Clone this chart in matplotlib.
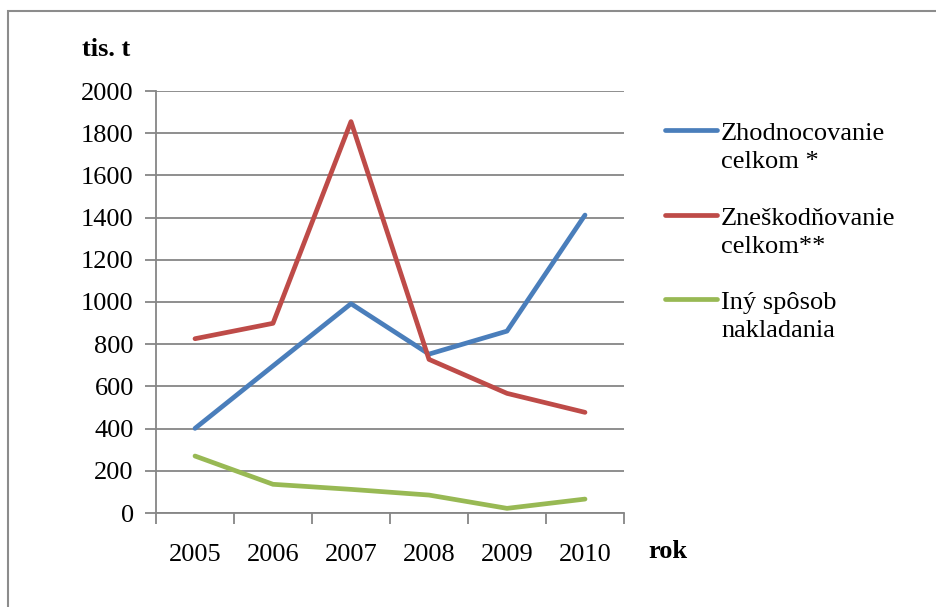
import matplotlib.pyplot as plt
from matplotlib.patches import Rectangle

plt.rcParams['font.family'] = ['Liberation Serif', 'DejaVu Serif']

# data (tis. t)
years = ['2005', '2006', '2007', '2008', '2009', '2010']
zhodnocovanie = [401, 697, 992, 753, 862, 1412]
zneskodnovanie = [826, 899, 1855, 728, 567, 477]
iny_sposob = [270, 136, 112, 85, 22, 66]

labels = ['Zhodnocovanie\ncelkom *', 'Zneškodňovanie\ncelkom**', 'Iný spôsob\nnakladania']
colors = ['#4A7EBB', '#BE4B48', '#98B954']

fig = plt.figure(figsize=(9.37, 6.07), dpi=100)
ax = fig.add_axes([156 / 937, 1 - 513 / 607, 468 / 937, 422 / 607])

x = list(range(len(years)))
series = [zhodnocovanie, zneskodnovanie, iny_sposob]
handles = []
for vals, col, lab in zip(series, colors, labels):
    h, = ax.plot(x, vals, color=col, linewidth=3.4, solid_capstyle='round',
                 solid_joinstyle='round', label=lab, zorder=3)
    handles.append(h)

grid_col = '#868686'
ax.set_xlim(-0.5, len(years) - 0.5)
ax.set_ylim(0, 2000)
ax.set_yticks(range(0, 2001, 200))
ax.yaxis.grid(True, color=grid_col, linewidth=1.3)
ax.set_axisbelow(True)

# category ticks sit between the labels
ax.set_xticks([i - 0.5 for i in range(len(years) + 1)])
ax.set_xticklabels([])
ax.set_xticks(x, minor=True)
ax.set_xticklabels(years, minor=True)
ax.tick_params(axis='x', which='minor', length=0, labelsize=19, pad=22)
ax.tick_params(axis='x', which='major', length=8, width=1.3, color=grid_col)
ax.tick_params(axis='y', length=8, width=1.3, color=grid_col, labelsize=19, pad=8)

for s in ['top', 'right']:
    ax.spines[s].set_visible(False)
for s in ['left', 'bottom']:
    ax.spines[s].set_color(grid_col)
    ax.spines[s].set_linewidth(1.3)

fig.text(106 / 937, 1 - 50 / 607, 'tis. t', fontsize=19, fontweight='bold',
         ha='center', va='center')
fig.text(668 / 937, 1 - 551 / 607, 'rok', fontsize=19, fontweight='bold',
         ha='center', va='center')

# legend: handle next to the first line of each label
leg_y = [130, 215, 299]
for h, lab, yy in zip(handles, labels, leg_y):
    fig.add_artist(plt.Line2D([665 / 937, 717 / 937], [1 - yy / 607] * 2,
                              color=h.get_color(), linewidth=3.4,
                              solid_capstyle='round'))
    fig.text(721 / 937, 1 - (yy - 7) / 607, lab, fontsize=19, ha='left',
             va='top', linespacing=1.38)

# outer frame
fig.add_artist(Rectangle((8 / 937, -0.1), 1.0, 1.1 - 11 / 607,
                         transform=fig.transFigure, fill=False,
                         edgecolor='#8c8c8c', linewidth=1.5))

fig.savefig('out.png', dpi=100)
